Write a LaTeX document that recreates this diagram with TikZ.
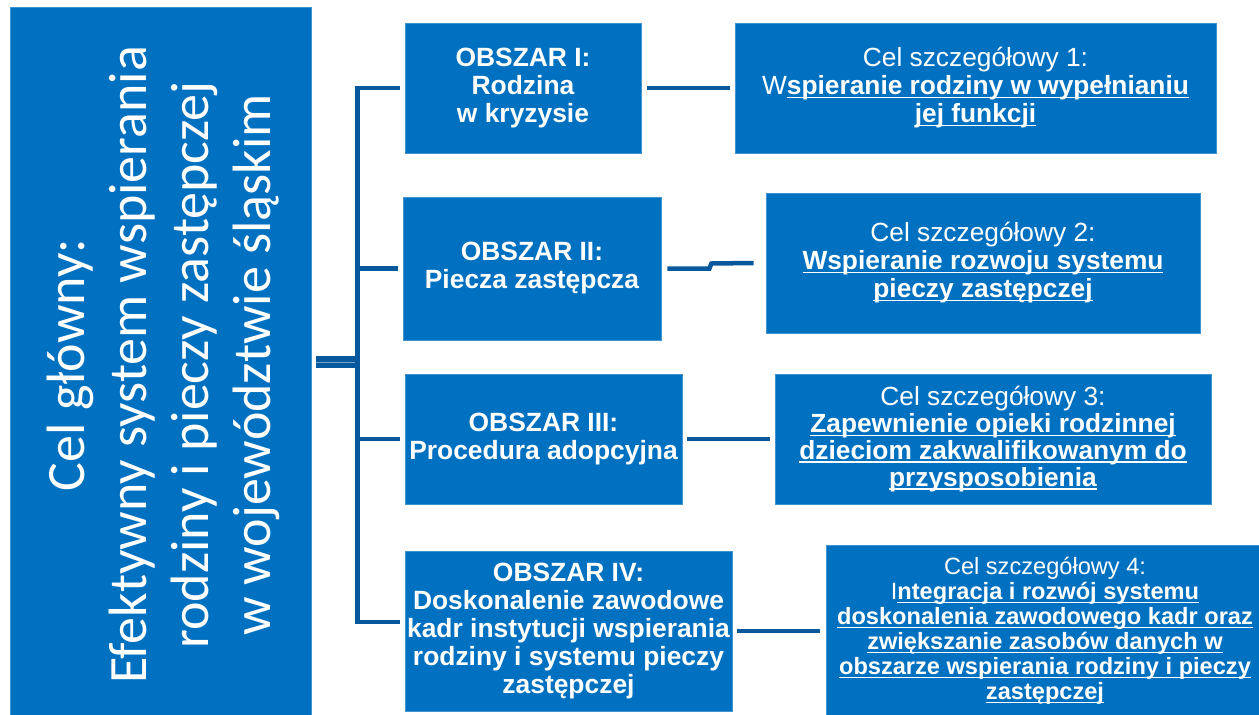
\documentclass[tikz,border=0pt]{standalone}
\usepackage{fontspec}
\setmainfont{Liberation Sans}
\newfontfamily\calibfont{Carlito}
\usepackage{tikz}
\usetikzlibrary{calc}
\definecolor{boxblue}{RGB}{0,112,192}
\definecolor{linkblue}{RGB}{8,88,158}
\newsavebox{\celbox}
\newcommand{\celul}[1]{\sbox{\celbox}{\textbf{#1}}\rlap{\rule[-3.4pt]{\wd\celbox}{1.4pt}}\usebox{\celbox}}

\begin{document}
\begin{tikzpicture}[x=1pt,y=1pt,yscale=-1,xscale=1,
  blok/.style={fill=boxblue,draw=boxblue!75!white,line width=0.8pt,text=white,inner sep=0pt,align=center},
  obszar/.style={blok,font=\bfseries\fontsize{26.4}{28}\selectfont},
  cel/.style={blok,font=\fontsize{26.3}{28}\selectfont},
  link/.style={draw=linkblue,line width=4.5pt}]
\useasboundingbox (0,0) rectangle (1259,715);

%Main goal box
\node [blok,minimum width=301,minimum height=710] (main) at (160.5,362) {};
% Text Node
\node [rotate=90,text=white,align=center,font=\calibfont\fontsize{54}{62}\selectfont] (maintxt) at (163,365)
  {Cel główny:\\Efektywny system wspierania\\rodziny i pieczy zastępczej\\w województwie śląskim};

%Areas
\node [obszar,minimum width=236,minimum height=130] (o1) at (523,88) {OBSZAR I:\\Rodzina\\w kryzysie};
\node [obszar,minimum width=258,minimum height=143] (o2) at (532,268.5) {OBSZAR II:\\Piecza zastępcza};
\node [obszar,minimum width=277,minimum height=130] (o3) at (543.5,439) {OBSZAR III:\\Procedura adopcyjna};
\node [obszar,minimum width=327,minimum height=160] (o4) at (568.5,631)
  {OBSZAR IV:\\Doskonalenie zawodowe\\kadr instytucji wspierania\\rodziny i systemu pieczy\\zastępczej};

%Specific goals
\node [cel,minimum width=481,minimum height=130] (c1) at (975.5,88)
  {Cel szczegółowy 1:\\W\celul{spieranie rodziny w wypełnianiu}\\\celul{jej funkcji}};
\node [cel,minimum width=434,minimum height=140] (c2) at (983,263)
  {Cel szczegółowy 2:\\\celul{Wspieranie rozwoju systemu}\\\celul{pieczy zastępczej}};
\node [cel,font=\fontsize{26.3}{26.8}\selectfont,minimum width=436,minimum height=130] (c3) at (993,439)
  {Cel szczegółowy 3:\\\celul{Zapewnienie opieki rodzinnej}\\\celul{dzieciom zakwalifikowanym do}\\\celul{przysposobienia}};
\node [cel,font=\fontsize{23.6}{25}\selectfont,minimum width=438,minimum height=172] (c4) at (1045,631)
  {Cel szczegółowy 4:\\I\celul{ntegracja i rozwój systemu}\\\celul{doskonalenia zawodowego kadr oraz}\\\celul{zwiększanie zasobów danych w}\\\celul{obszarze wspierania rodziny i pieczy}\\\celul{zastępczej}};

%Straight Lines
\coordinate (hub) at ([xshift=46pt]main.east);
\coordinate (b4) at ($(o4.west)+(-5,-9)$);
\draw [draw=linkblue,line width=12pt] ([xshift=5pt]main.east) -- ([xshift=2pt]hub);
\draw [draw=linkblue!55!white,line width=0.8pt] ([xshift=5pt]main.east) -- (hub);
\draw [link] ([xshift=-5pt]o1.west) -| (b4 -| hub) -- (b4);
\draw [link] (hub |- o2.west) -- ([xshift=-5pt]o2.west);
\draw [link] (hub |- o3.west) -- ([xshift=-5pt]o3.west);

\draw [link] ([xshift=6pt]o1.east) -- ([xshift=-5pt]c1.west);
\draw [link] ([xshift=6pt]o2.east) -- ++(42,0) -- ++(2,-5) -- ([xshift=-12pt]c2.west);
\draw [link] ([xshift=5pt]o3.east) -- ([xshift=-5pt]c3.west);
\draw [link] ([xshift=5pt]o4.east) -- ([xshift=-6pt]c4.west);
\end{tikzpicture}
\end{document}
